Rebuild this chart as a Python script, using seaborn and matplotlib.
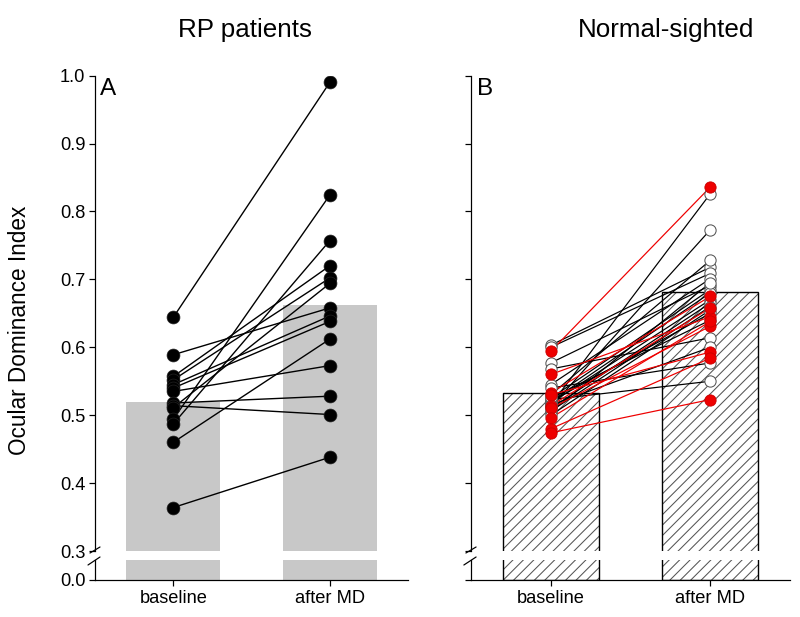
import numpy as np
import pandas as pd
import matplotlib
matplotlib.use("Agg")
import matplotlib.pyplot as plt
import seaborn as sns

# ========================
# Data
# ========================
conditions = ["baseline", "after MD"]

# panel A: RP patients (bar = group mean)
rp_bar = [0.519, 0.663]
rp_base = [0.644, 0.589, 0.557, 0.552, 0.545, 0.540, 0.535, 0.518, 0.514, 0.511, 0.494, 0.487, 0.460, 0.364]
rp_after = [0.990, 0.658, 0.720, 0.702, 0.646, 0.638, 0.573, 0.528, 0.501, 0.694, 0.824, 0.757, 0.612, 0.438]

# panel B: normal-sighted, open circles (black lines)
ns_bar = [0.532, 0.681]
ns_open_base = [0.603, 0.600, 0.577, 0.568, 0.545, 0.540, 0.530, 0.525, 0.523, 0.520,
                0.518, 0.515, 0.512, 0.510, 0.506, 0.505, 0.500, 0.520, 0.525, 0.515]
ns_open_after = [0.718, 0.709, 0.691, 0.614, 0.701, 0.577, 0.728, 0.685, 0.550, 0.680,
                 0.670, 0.826, 0.773, 0.665, 0.660, 0.695, 0.655, 0.650, 0.640, 0.600]
# panel B: red filled circles (red lines)
ns_red_base = [0.594, 0.560, 0.533, 0.530, 0.514, 0.510, 0.496, 0.480, 0.474]
ns_red_after = [0.836, 0.645, 0.675, 0.593, 0.658, 0.631, 0.638, 0.584, 0.523]

GRAY = "#c8c8c8"
RED = "#ee0000"


def long_df(base, after, group):
    rows = []
    for i, (b, a) in enumerate(zip(base, after)):
        rows.append({"subj": f"{group}{i}", "pos": 0, "odi": b, "group": group})
        rows.append({"subj": f"{group}{i}", "pos": 1, "odi": a, "group": group})
    return pd.DataFrame(rows)


df_rp = long_df(rp_base, rp_after, "rp")
df_open = long_df(ns_open_base, ns_open_after, "open")
df_red = long_df(ns_red_base, ns_red_after, "red")

sns.set_style("ticks")
plt.rcParams["font.family"] = ["Liberation Sans", "DejaVu Sans"]
plt.rcParams.update({
    "text.color": "black",
    "axes.edgecolor": "black",
    "axes.labelcolor": "black",
    "xtick.color": "black",
    "ytick.color": "black",
    "hatch.linewidth": 0.6,
    "axes.linewidth": 0.7,
    "xtick.major.width": 0.7,
    "ytick.major.width": 0.7,
    "xtick.major.size": 3.5,
    "ytick.major.size": 3.5,
})

fig = plt.figure(figsize=(6.4, 4.936), dpi=125)

W, H = 800, 617
def box(x0, x1, ytop, ybot):
    return [x0 / W, 1 - ybot / H, (x1 - x0) / W, (ybot - ytop) / H]

axA = fig.add_axes(box(95, 408, 75.7, 551))
axA0 = fig.add_axes(box(95, 408, 560, 580))
axB = fig.add_axes(box(471, 790, 75.7, 551))
axB0 = fig.add_axes(box(471, 790, 560, 580))


def draw_bars(ax, heights, hatched):
    if hatched:
        sns.barplot(x=conditions, y=heights, ax=ax, width=0.6, color="white",
                    saturation=1, edgecolor="#555555", linewidth=0, hatch="////")
        sns.barplot(x=conditions, y=heights, ax=ax, width=0.6, fill=False,
                    edgecolor="black", linewidth=0.8)
    else:
        sns.barplot(x=conditions, y=heights, ax=ax, width=0.6, color=GRAY,
                    saturation=1, linewidth=0)


for ax, ax0, bars, hatched in [(axA, axA0, rp_bar, False), (axB, axB0, ns_bar, True)]:
    draw_bars(ax, bars, hatched)
    draw_bars(ax0, bars, hatched)
    ax.set_ylim(0.3, 1.0)
    ax0.set_ylim(0, 0.029)
    for a in (ax, ax0):
        a.set_xlim(-0.5, 1.5)
        a.set_xlabel("")
        a.set_ylabel("")
        a.spines["top"].set_visible(False)
        a.spines["right"].set_visible(False)
    ax.spines["bottom"].set_visible(False)
    ax.tick_params(axis="x", bottom=False, labelbottom=False)
    ax.set_yticks(np.round(np.arange(0.3, 1.01, 0.1), 1))
    ax0.set_yticks([0.0])
    ax0.set_xticks([0, 1])
    ax0.set_xticklabels(conditions)
    for a in (ax, ax0):
        a.tick_params(labelsize=10.5, pad=2)

    # axis break marks
    kw = dict(color="black", lw=0.7, clip_on=False)
    ax.plot([-5 / 313, 5 / 313], [-2 / 475, 4 / 475], transform=ax.transAxes, **kw)
    ax0.plot([-7 / 313, 5 / 313], [0.75, 1.15], transform=ax0.transAxes, **kw)

axA.set_yticklabels([f"{v:.1f}" for v in axA.get_yticks()])
axA0.set_yticklabels(["0.0"])
axB.tick_params(labelleft=False)
axB0.tick_params(labelleft=False)

# panel A lines and points
sns.lineplot(data=df_rp, x="pos", y="odi", units="subj", estimator=None,
             color="black", lw=0.8, ax=axA, legend=False, zorder=3)
sns.scatterplot(data=df_rp, x="pos", y="odi", color="black", s=55,
                edgecolor="#222222", linewidth=0.4, ax=axA, legend=False, zorder=4)

# panel B lines and points
sns.lineplot(data=df_open, x="pos", y="odi", units="subj", estimator=None,
             color="black", lw=0.7, ax=axB, legend=False, zorder=3)
sns.lineplot(data=df_red, x="pos", y="odi", units="subj", estimator=None,
             color=RED, lw=0.7, ax=axB, legend=False, zorder=3)
sns.scatterplot(data=df_open, x="pos", y="odi", color="white", s=42,
                edgecolor="#555555", linewidth=0.6, ax=axB, legend=False, zorder=4)
sns.scatterplot(data=df_red, x="pos", y="odi", color=RED, s=42,
                edgecolor="#cc0000", linewidth=0.5, ax=axB, legend=False, zorder=5)

for a in (axA, axB):
    a.set_xlim(-0.5, 1.5)
    a.set_xlabel("")
    a.set_ylabel("")

axA.text(0.015, 0.995, "A", transform=axA.transAxes, fontsize=14, va="top", ha="left")
axB.text(0.02, 0.995, "B", transform=axB.transAxes, fontsize=14, va="top", ha="left")

fig.text(245 / W, 1 - 30 / H, "RP patients", fontsize=15, ha="center", va="center")
fig.text(666 / W, 1 - 30 / H, "Normal-sighted", fontsize=15, ha="center", va="center")
fig.text(20 / W, 1 - 330 / H, "Ocular Dominance Index", fontsize=13,
         rotation=90, ha="center", va="center")

fig.savefig("out.png", dpi=125)
